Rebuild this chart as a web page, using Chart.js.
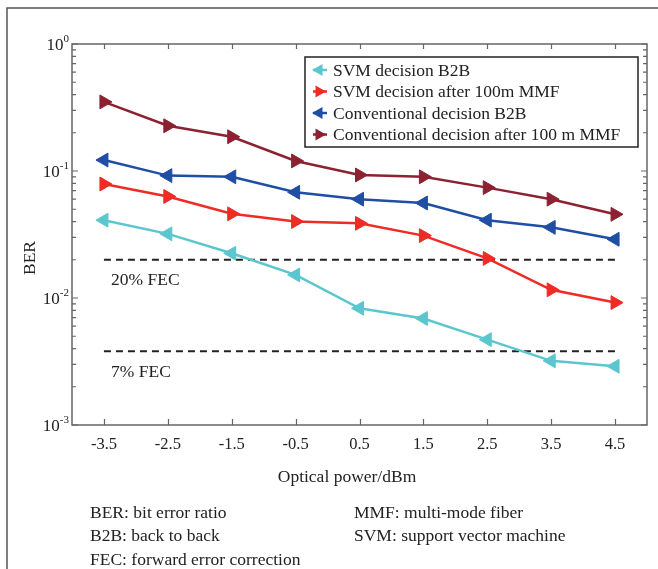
<!DOCTYPE html>
<html>
<head>
<meta charset="utf-8">
<script src="https://cdn.jsdelivr.net/npm/chart.js@4.4.0/dist/chart.umd.min.js"></script>
<style>
  html, body { margin: 0; padding: 0; background: #fff; }
  #wrap { width: 658px; height: 569px; position: relative; }
</style>
</head>
<body>
<div id="wrap"><canvas id="berChart"></canvas></div>
<script>
// Data
const power = [-3.5, -2.5, -1.5, -0.5, 0.5, 1.5, 2.5, 3.5, 4.5];
const svmB2B = [0.041, 0.032, 0.0225, 0.0152, 0.0083, 0.0069, 0.0047, 0.0032, 0.0029];
const svmMMF = [0.079, 0.063, 0.046, 0.040, 0.0387, 0.031, 0.0205, 0.0116, 0.0092];
const convB2B = [0.122, 0.092, 0.090, 0.068, 0.060, 0.056, 0.041, 0.036, 0.029];
const convMMF = [0.35, 0.227, 0.186, 0.12, 0.093, 0.090, 0.074, 0.060, 0.0456];
const fecLevels = [0.02, 0.0038];
const fecLabels = ['20% FEC', '7% FEC'];
const fecSpan = [-3.5, 4.5];

const xTicks = [-3.5, -2.5, -1.5, -0.5, 0.5, 1.5, 2.5, 3.5, 4.5];
const yMajor = [1e-3, 1e-2, 1e-1, 1];
const yMajorExp = ['-3', '-2', '-1', '0'];
const yMinorFactors = [2, 3, 4, 5, 6, 7, 8, 9];

const seriesNames = ['SVM decision B2B', 'SVM decision after 100m MMF',
    'Conventional decision B2B', 'Conventional decision after 100 m MMF'];
const seriesColors = ['#5cc6cf', '#ee2b25', '#1f4ea4', '#8c2131'];
const seriesDir = [-90, 90, -90, 90];

const footnotes = [
    ['BER: bit error ratio', 0, 0], ['B2B: back to back', 0, 1], ['FEC: forward error correction', 0, 2],
    ['MMF: multi-mode fiber', 1, 0], ['SVM: support vector machine', 1, 1]
];

const SERIF = '"Liberation Serif", "DejaVu Serif", serif';

function toPoints(ys) {
    return power.map((x, i) => ({ x: x, y: ys[i] }));
}

function lineSet(label, values, i) {
    return {
        label: label,
        data: toPoints(values),
        borderColor: seriesColors[i],
        backgroundColor: seriesColors[i],
        borderWidth: 2.5,
        pointStyle: 'triangle',
        pointRotation: seriesDir[i],
        pointRadius: 8,
        pointHoverRadius: 8,
        pointBorderWidth: 1,
        tension: 0
    };
}

const datasets = [
    lineSet(seriesNames[0], svmB2B, 0),
    lineSet(seriesNames[1], svmMMF, 1),
    lineSet(seriesNames[2], convB2B, 2),
    lineSet(seriesNames[3], convMMF, 3)
];
fecLevels.forEach(level => {
    datasets.push({
        label: 'fec',
        data: fecSpan.map(x => ({ x: x, y: level })),
        borderColor: '#222',
        borderWidth: 2,
        borderDash: [7, 5],
        pointRadius: 0,
        pointHoverRadius: 0
    });
});

function triangle(ctx, x, y, r, rot, color) {
    const a = rot * Math.PI / 180;
    ctx.beginPath();
    for (let k = 0; k < 3; k++) {
        const t = a + k * 2 * Math.PI / 3;
        const px = x + Math.sin(t) * r;
        const py = y - Math.cos(t) * r;
        if (k === 0) ctx.moveTo(px, py); else ctx.lineTo(px, py);
    }
    ctx.closePath();
    ctx.fillStyle = color;
    ctx.fill();
}

const decorPlugin = {
    id: 'decor',
    beforeDraw(chart) {
        const ctx = chart.ctx;
        ctx.save();
        ctx.fillStyle = '#fff';
        ctx.fillRect(0, 0, chart.width, chart.height);
        ctx.restore();
    },
    afterDraw(chart) {
        const ctx = chart.ctx;
        const area = chart.chartArea;
        const xs = chart.scales.x;
        const ys = chart.scales.y;
        ctx.save();

        // outer frame
        ctx.strokeStyle = '#555';
        ctx.lineWidth = 1.5;
        ctx.beginPath();
        ctx.moveTo(7, chart.height + 2);
        ctx.lineTo(7, 8);
        ctx.lineTo(chart.width + 2, 8);
        ctx.stroke();

        // axes box
        ctx.strokeStyle = '#666';
        ctx.lineWidth = 1.5;
        ctx.strokeRect(area.left, area.top, area.right - area.left, area.bottom - area.top);

        // x ticks (inside, top and bottom)
        ctx.lineWidth = 1.2;
        ctx.beginPath();
        xTicks.forEach(v => {
            const px = Math.round(xs.getPixelForValue(v)) + 0.5;
            ctx.moveTo(px, area.bottom); ctx.lineTo(px, area.bottom - 6);
            ctx.moveTo(px, area.top); ctx.lineTo(px, area.top + 5);
        });
        // y ticks, majors and minors
        yMajor.forEach(m => {
            const py = ys.getPixelForValue(m);
            ctx.moveTo(area.left, py); ctx.lineTo(area.left + 6, py);
            ctx.moveTo(area.right, py); ctx.lineTo(area.right - 6, py);
            if (m < 1) {
                yMinorFactors.forEach(f => {
                    const pm = ys.getPixelForValue(m * f);
                    ctx.moveTo(area.left, pm); ctx.lineTo(area.left + 4, pm);
                    ctx.moveTo(area.right, pm); ctx.lineTo(area.right - 4, pm);
                });
            }
        });
        ctx.stroke();

        // x tick labels
        ctx.fillStyle = '#222';
        ctx.font = '16.5px ' + SERIF;
        ctx.textAlign = 'center';
        ctx.textBaseline = 'middle';
        xTicks.forEach(v => {
            ctx.fillText(String(v), xs.getPixelForValue(v), area.bottom + 20);
        });

        // y tick labels 10^n
        yMajor.forEach((m, i) => {
            const py = ys.getPixelForValue(m);
            ctx.font = '11px ' + SERIF;
            const ew = ctx.measureText(yMajorExp[i]).width;
            ctx.textAlign = 'right';
            ctx.textBaseline = 'alphabetic';
            ctx.fillText(yMajorExp[i], area.left - 3, py - 2);
            ctx.font = '17px ' + SERIF;
            ctx.fillText('10', area.left - 3 - ew, py + 6);
        });

        // axis titles
        ctx.font = '17.5px ' + SERIF;
        ctx.textAlign = 'center';
        ctx.textBaseline = 'middle';
        ctx.fillText('Optical power/dBm', 347, 477);
        ctx.save();
        ctx.translate(30, 258);
        ctx.rotate(-Math.PI / 2);
        ctx.fillText('BER', 0, 0);
        ctx.restore();

        // FEC labels
        ctx.textAlign = 'left';
        fecLevels.forEach((lv, i) => {
            ctx.fillText(fecLabels[i], 111, ys.getPixelForValue(lv) + 21);
        });

        // legend
        const lx = 305, ly = 57, lw = 333, lh = 90;
        ctx.fillStyle = '#fff';
        ctx.fillRect(lx, ly, lw, lh);
        ctx.strokeStyle = '#222';
        ctx.lineWidth = 1.5;
        ctx.strokeRect(lx, ly, lw, lh);
        ctx.font = '17.5px ' + SERIF;
        ctx.textBaseline = 'middle';
        seriesNames.forEach((name, i) => {
            const cy = ly + 13 + i * 21.5;
            ctx.strokeStyle = seriesColors[i];
            ctx.lineWidth = 2.5;
            ctx.beginPath();
            ctx.moveTo(lx + 8, cy); ctx.lineTo(lx + 22, cy);
            ctx.stroke();
            triangle(ctx, lx + 14, cy, 7, seriesDir[i], seriesColors[i]);
            ctx.fillStyle = '#222';
            ctx.fillText(name, lx + 28, cy + 1);
        });

        // footnotes
        ctx.font = '17.5px ' + SERIF;
        footnotes.forEach(f => {
            const fx = f[1] === 0 ? 90 : 354;
            ctx.fillText(f[0], fx, 513 + f[2] * 23.5);
        });

        ctx.restore();
    }
};

new Chart(document.getElementById('berChart'), {
    type: 'line',
    data: { datasets: datasets },
    options: {
        responsive: true,
        maintainAspectRatio: false,
        animation: false,
        layout: { padding: { left: 72, top: 44, right: 11, bottom: 144 } },
        plugins: {
            legend: { display: false },
            tooltip: { enabled: false },
            title: { display: false }
        },
        scales: {
            x: { type: 'linear', min: -4, max: 5, display: false },
            y: { type: 'logarithmic', min: 1e-3, max: 1, display: false }
        }
    },
    plugins: [decorPlugin]
});
</script>
</body>
</html>
